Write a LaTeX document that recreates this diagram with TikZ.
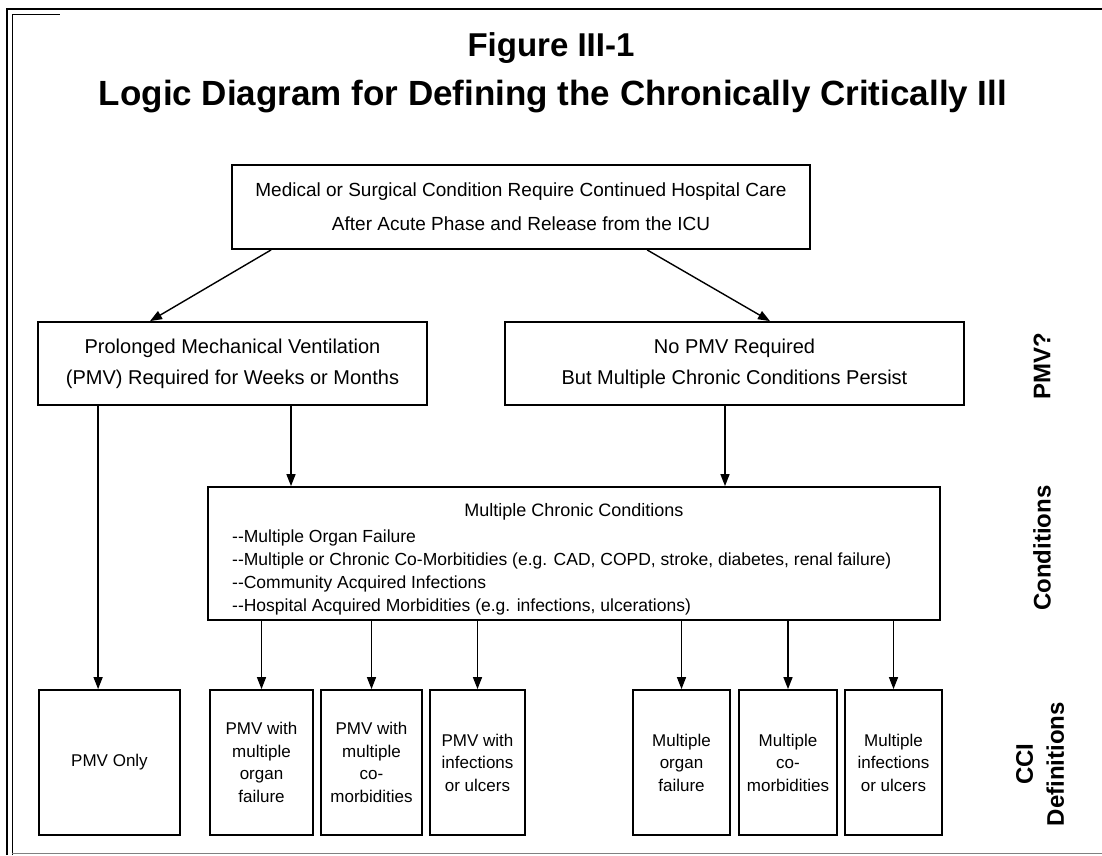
\documentclass[tikz,border=0pt]{standalone}
\usepackage{fontspec}
\setmainfont{Liberation Sans}
\usetikzlibrary{calc,positioning,arrows.meta}

\begin{document}
\begin{tikzpicture}[x=1pt,y=-1pt,
  box/.style={draw, line width=1.8pt, rectangle, align=center, inner sep=0pt},
  arr/.style={line width=1.4pt, -{Triangle[length=12pt,width=9pt]}},
  side/.style={rotate=90, align=center, font=\fontsize{24}{31}\selectfont\bfseries}]
        \useasboundingbox (0,0) rectangle (1102,855);
        % frame
        \draw[line width=2pt] (7,855) -- (7,9) -- (1102,9);
        \draw[line width=0.8pt] (12,855) -- (12,14) -- (60,14);
        \draw[line width=0.8pt, color=gray] (12,853) -- (1102,853);
        % titles
        \node[font=\fontsize{33}{38}\selectfont\bfseries] (fig) at (551,48) {Figure III-1};
        \node[font=\fontsize{35}{40}\selectfont\bfseries] (ttl) at (553,97) {Logic Diagram for Defining the Chronically Critically Ill};
        % boxes
        \node[box, minimum width=578pt, minimum height=84pt, font=\fontsize{19}{34}\selectfont] (top) at (521,207)
             {Medical or Surgical Condition Require Continued Hospital Care\\After Acute Phase and Release from the ICU};
        \node[box, minimum width=389pt, minimum height=83pt, font=\fontsize{20}{31}\selectfont] (lmid) at (232.5,363.5)
             {Prolonged Mechanical Ventilation\\(PMV) Required for Weeks or Months};
        \node[box, minimum width=459pt, minimum height=83pt, font=\fontsize{20}{31}\selectfont] (rmid) at (734.5,363.5)
             {No PMV Required\\But Multiple Chronic Conditions Persist};
        \node[box, minimum width=732pt, minimum height=133pt] (multi) at (574,553.5) {};
        \node[font=\fontsize{18}{22}\selectfont] (mtitle) at (574,512) {Multiple Chronic Conditions};
        \node[anchor=north west, align=left, inner sep=0pt, font=\fontsize{17.5}{23}\selectfont] (mlist) at (232,530)
             {{-}{-}Multiple Organ Failure\\
              {-}{-}Multiple or Chronic Co-Morbitidies (e.g. CAD, COPD, stroke, diabetes, renal failure)\\
              {-}{-}Community Acquired Infections\\
              {-}{-}Hospital Acquired Morbidities (e.g. infections, ulcerations)};
        % CCI definitions
        \tikzset{def/.style={box, minimum height=145pt, font=\fontsize{17}{22.5}\selectfont}}
        \node[def, minimum width=141pt] (only) at (109.5,762.5) {PMV Only};
        \node[def, minimum width=103pt] (d1) at (261.5,762.5) {PMV with\\multiple\\organ\\failure};
        \node[def, minimum width=101pt] (d2) at (371.5,762.5) {PMV with\\multiple\\co-\\morbidities};
        \node[def, minimum width=95pt] (d3) at (477.5,762.5) {PMV with\\infections\\or ulcers};
        \node[def, minimum width=97pt] (d4) at (681.5,762.5) {Multiple\\organ\\failure};
        \node[def, minimum width=98pt] (d5) at (788,762.5) {Multiple\\co-\\morbidities};
        \node[def, minimum width=97pt] (d6) at (893.5,762.5) {Multiple\\infections\\or ulcers};
        % side labels
        \node[side] (pmvq) at (1042,366) {PMV?};
        \node[side] (cond) at (1042,548) {Conditions};
        \node[side] (defs) at (1040,764) {CCI\\Definitions};
        % arrows
        \draw[arr] ($(top.south west)+(40,0)$) -- ($(lmid.north)+(-82.5,0)$);
        \draw[arr] ($(top.south west)+(416,0)$) -- ($(rmid.north)+(35.5,0)$);
        \draw[arr] ($(lmid.south west)+(61,0)$) coordinate (a) -- (a |- only.north);
        \draw[arr] ($(lmid.south)+(58.5,0)$) coordinate (b) -- (b |- multi.north);
        \draw[arr] ($(rmid.south)+(-9.5,0)$) coordinate (c) -- (c |- multi.north);
        \foreach \d in {d1,d2,d3,d4,d5,d6}
            \draw[arr] (multi.south -| \d) -- (\d.north);
\end{tikzpicture}
\end{document}
